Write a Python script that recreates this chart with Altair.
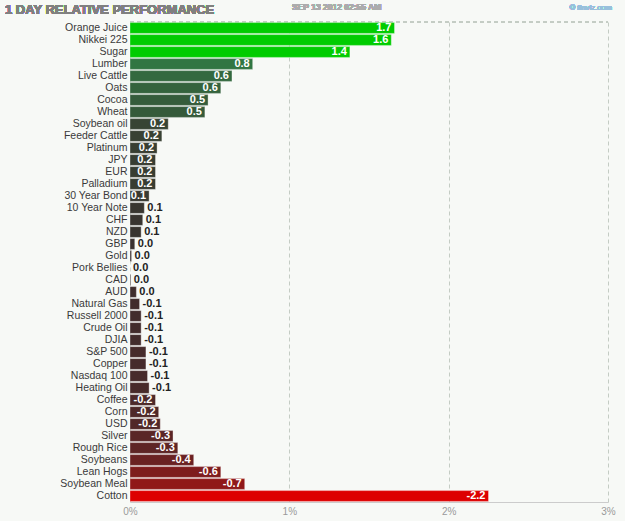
import altair as alt
import pandas as pd

categories = ["Orange Juice", "Nikkei 225", "Sugar", "Lumber", "Live Cattle", "Oats", "Cocoa", "Wheat",
              "Soybean oil", "Feeder Cattle", "Platinum", "JPY", "EUR", "Palladium", "30 Year Bond",
              "10 Year Note", "CHF", "NZD", "GBP", "Gold", "Pork Bellies", "CAD", "AUD", "Natural Gas",
              "Russell 2000", "Crude Oil", "DJIA", "S&P 500", "Copper", "Nasdaq 100", "Heating Oil",
              "Coffee", "Corn", "USD", "Silver", "Rough Rice", "Soybeans", "Lean Hogs", "Soybean Meal",
              "Cotton"]
values = [1.66, 1.64, 1.38, 0.77, 0.64, 0.57, 0.49, 0.47,
          0.24, 0.20, 0.17, 0.16, 0.16, 0.16, 0.12,
          0.09, 0.08, 0.07, 0.03, 0.01, 0.0, 0.005, -0.04, -0.06,
          -0.07, -0.07, -0.07, -0.10, -0.10, -0.11, -0.12,
          -0.16, -0.18, -0.19, -0.27, -0.30, -0.40, -0.57, -0.72,
          -2.25]
x_ticks = [0, 1, 2, 3]

W, H = 478, 480
PX_PER_UNIT = W / 3.0


def fmt(v):
    s = f"{v:.1f}"
    return "0.0" if s == "-0.0" else s


df = pd.DataFrame({"name": categories, "value": values})
df["mag"] = df["value"].abs()
df["label"] = [fmt(v) for v in values]
df["inside"] = [abs(v) * PX_PER_UNIT > len(fmt(v)) * 5.5 for v in values]

FONT = "Liberation Sans"

y_enc = alt.Y("name:N", sort=categories, title=None,
              scale=alt.Scale(paddingInner=0.1, paddingOuter=0.05),
              axis=alt.Axis(ticks=False, domain=False, labelFont=FONT, labelFontSize=10.5,
                            labelColor="#3a3a3a", labelPadding=3, grid=False))
x_scale = alt.Scale(domain=[0, 3], nice=False)

color_scale = alt.Scale(domain=[-2.3, -1.0, -0.99, 0, 0.99, 1.0, 1.7],
                        range=["#dd0000", "#dd0000", "#b01010", "#3a2e2e", "#2f8a48", "#00cc00", "#00cc00"],
                        interpolate="rgb")

base = alt.Chart(df)

bars = base.mark_bar(stroke="#ffffff", strokeOpacity=0.35, strokeWidth=1).encode(
    y=y_enc,
    x=alt.X("mag:Q", scale=x_scale, title=None,
            axis=alt.Axis(values=x_ticks, labelExpr="datum.value + '%'", labelFont=FONT,
                          labelFontSize=10, labelColor="#9a9a9a", ticks=False, domainColor="#cccccc",
                          labelFlush=False,
                          grid=True, gridDash=[4, 3], gridColor="#c4ccc4", labelPadding=4)),
    x2=alt.datum(0),
    color=alt.Color("value:Q", scale=color_scale, legend=None),
)

inside = base.transform_filter("datum.inside").mark_text(
    align="right", baseline="middle", dx=-3, font=FONT, fontSize=11, fontWeight="bold", color="#ffffff"
).encode(y=alt.Y("name:N", sort=categories), x=alt.X("mag:Q", scale=x_scale), text="label:N")

outside = base.transform_filter("!datum.inside").mark_text(
    align="left", baseline="middle", dx=3, font=FONT, fontSize=11, fontWeight="bold", color="#222222"
).encode(y=alt.Y("name:N", sort=categories), x=alt.X("mag:Q", scale=x_scale), text="label:N")

top_rule = alt.Chart(df).mark_rule(color="#c4ccc4", strokeDash=[4, 3]).encode(
    x=alt.value(0), x2=alt.value(W), y=alt.value(0))

title = alt.Chart(df).mark_text(align="left", baseline="alphabetic", font=FONT, fontSize=13,
                                fontWeight="bold", color="#808080").encode(
    x=alt.value(-125), y=alt.value(-8), text=alt.value("1 DAY RELATIVE PERFORMANCE"))
stamp = alt.Chart(df).mark_text(align="left", baseline="alphabetic", font=FONT, fontSize=8.5,
                                fontWeight="bold", color="#acacac").encode(
    x=alt.value(162), y=alt.value(-12), text=alt.value("SEP 13 2012 02:55 AM"))
credit = alt.Chart(df).mark_text(align="right", baseline="alphabetic", font=FONT, fontSize=7.8,
                                 color="#98c0dc").encode(
    x=alt.value(482), y=alt.value(-12), text=alt.value("\u00a9 finviz.com"))

chart = alt.layer(top_rule, bars, inside, outside, title, stamp, credit).properties(
    width=W, height=H,
    autosize=alt.AutoSizeParams(type="none"),
    padding={"left": 130, "top": 22, "right": 17, "bottom": 19},
    background="#f7f9f6",
).configure_view(stroke=None)

chart.save("out.html", embed_options={"renderer": "svg", "actions": False})
